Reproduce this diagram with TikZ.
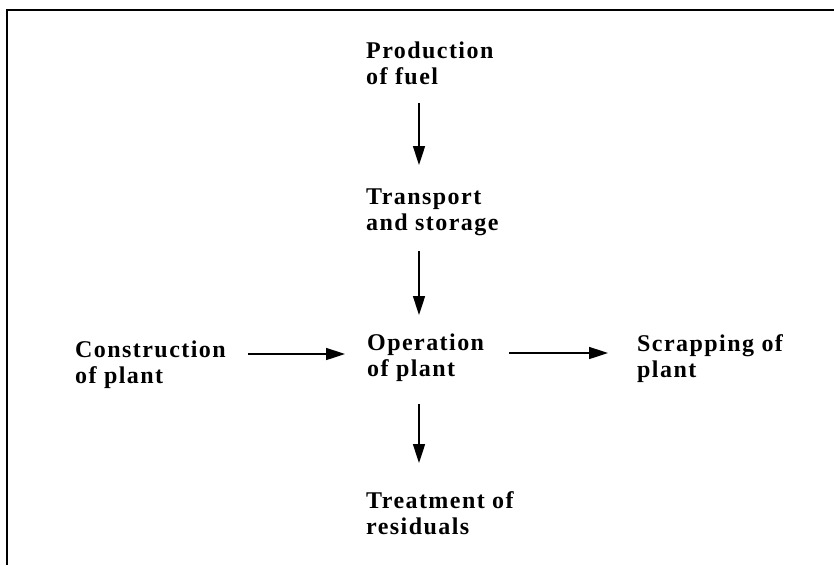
\documentclass[tikz,border=0pt]{standalone}
\usepackage{fontspec}
\setmainfont[LetterSpace=6]{Liberation Serif}
\usetikzlibrary{arrows.meta,calc,positioning}

\begin{document}
\begin{tikzpicture}[
  x=1pt,y=-1pt,
  step lbl/.style={anchor=north west,inner sep=0pt,align=left,
                   font=\fontsize{24}{26}\selectfont\bfseries},
  arr/.style={-{Triangle[length=19pt,width=12pt]},line width=1.6pt},
  frame/.style={line width=2pt}
]
\useasboundingbox (0,0) rectangle (834,565);
% open frame: top and left edge only
\draw[frame] (834,10) -- (7,10) -- (7,565);

% fuel chain down the middle
\node[step lbl] (fuel)  at (366,42)  {Production\\of fuel};
\node[step lbl] (trans) at (366,189) {Transport\\and storage};
\node[step lbl] (oper)  at (367,334) {Operation\\of plant};
\node[step lbl] (treat) at (366,491) {Treatment of\\residuals};
% plant life, left and right
\node[step lbl] (build) at (75,341)  {Construction\\of plant};
\node[step lbl] (scrap) at (637,334) {Scrapping of\\plant};

% vertical flow
\draw[arr] ($(fuel.south west)+(53,18)$)  -- ($(trans.north west)+(53,-24)$);
\draw[arr] ($(trans.south west)+(53,15)$) -- ($(oper.north west)+(52,-19)$);
\draw[arr] ($(oper.south west)+(52,22)$)  -- ($(treat.north west)+(53,-28)$);
% horizontal flow
\draw[arr] ($(build.north east)+(22,13)$) -- ($(oper.north west)+(-22,20)$);
\draw[arr] ($(oper.north east)+(25,19)$)  -- ($(scrap.north west)+(-29,19)$);
\end{tikzpicture}
\end{document}
